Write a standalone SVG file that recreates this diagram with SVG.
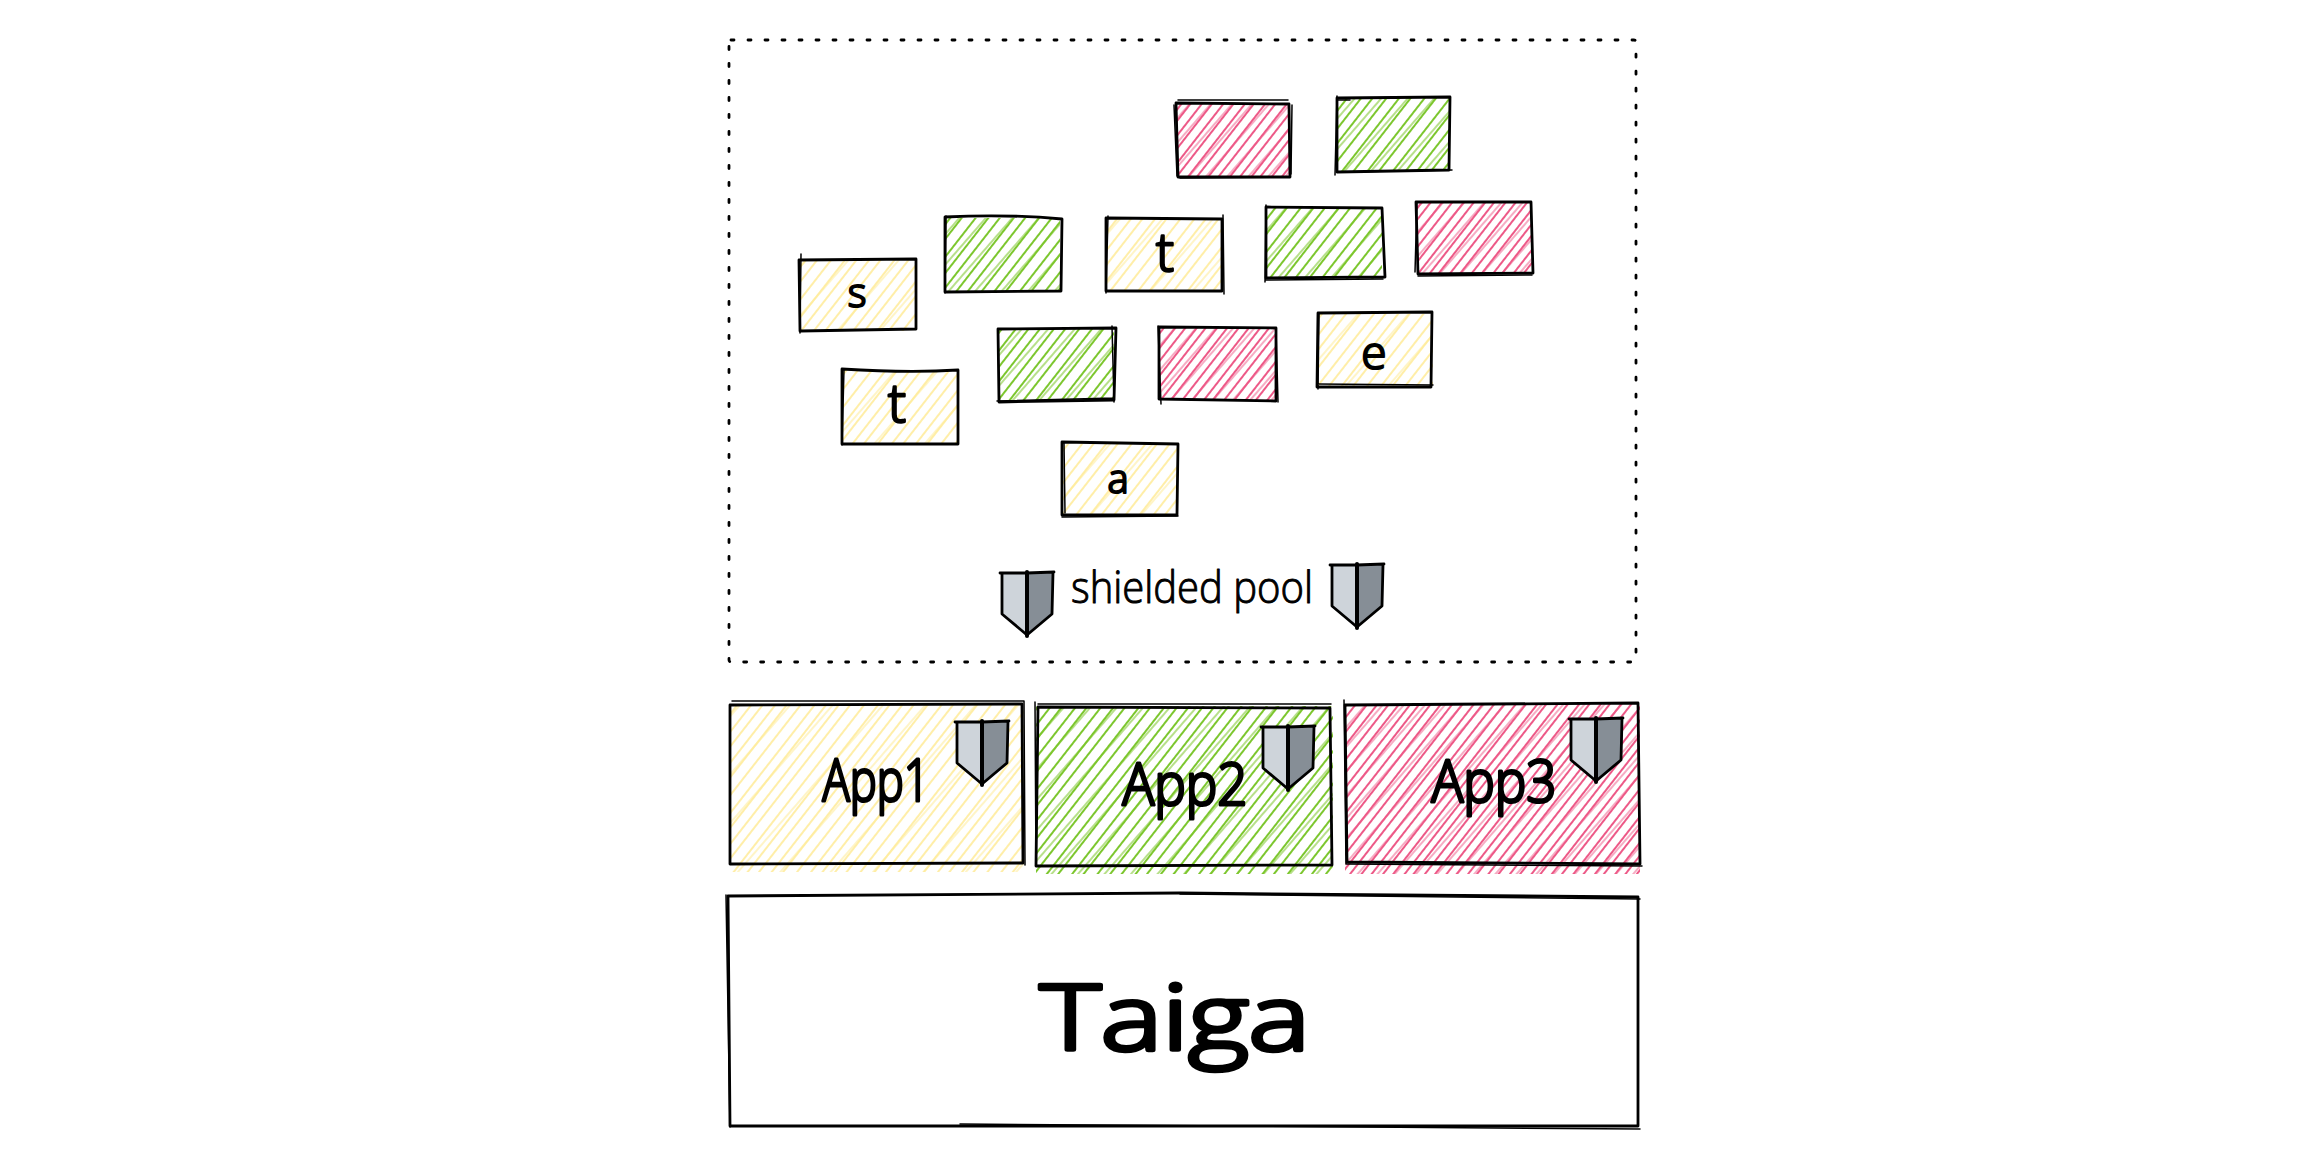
<svg xmlns="http://www.w3.org/2000/svg" width="2314" height="1168" viewBox="0 0 2314 1168">
<style>
.o{fill:none;stroke:#000;stroke-width:2.8;stroke-linecap:round;stroke-linejoin:round}
.o2{fill:none;stroke:#000;stroke-width:1.5;stroke-linecap:round;stroke-linejoin:round}
.t{font-family:"Open Sans","DejaVu Sans",sans-serif;font-weight:300;fill:#000;text-anchor:middle;stroke:#000;stroke-linejoin:round;stroke-linecap:round}
.sl{fill:#ced4da}.sd{fill:#868e96}
.y{fill:url(#hy)}.g{fill:url(#hg)}.p{fill:url(#hp)}
.y2{fill:url(#hy2)}.g2{fill:url(#hg2)}.p2{fill:url(#hp2)}
</style>
<defs>
<pattern id="hy" width="50" height="50" patternUnits="userSpaceOnUse" patternTransform="rotate(38)"><path d="M4 0V50M15 0V50M26 0V50M35 0V50M45 0V50" fill="none" stroke="#ffe98c" stroke-width="1.5"/></pattern>
<pattern id="hy2" width="70" height="70" patternUnits="userSpaceOnUse" patternTransform="rotate(41)"><path d="M9 0V70M41 0V70" fill="none" stroke="#ffec99" stroke-width="1.1"/></pattern>
<pattern id="hg" width="50" height="50" patternUnits="userSpaceOnUse" patternTransform="rotate(38)"><path d="M3 0V50M13 0V50M22 0V50M33 0V50M42 0V50" fill="none" stroke="#66bd0a" stroke-width="1.7"/></pattern>
<pattern id="hg2" width="60" height="60" patternUnits="userSpaceOnUse" patternTransform="rotate(41)"><path d="M7 0V60M27 0V60M47 0V60" fill="none" stroke="#7dc72b" stroke-width="1.1"/></pattern>
<pattern id="hp" width="50" height="50" patternUnits="userSpaceOnUse" patternTransform="rotate(38)"><path d="M2 0V50M11 0V50M19 0V50M28 0V50M36 0V50M45 0V50" fill="none" stroke="#e9306a" stroke-width="1.6"/></pattern>
<pattern id="hp2" width="60" height="60" patternUnits="userSpaceOnUse" patternTransform="rotate(41)"><path d="M6 0V60M22 0V60M38 0V60M53 0V60" fill="none" stroke="#ee5a88" stroke-width="1"/></pattern>
<g id="shield"><path class="sl" d="M3 3H28V65L4 43Z"/><path class="sd" d="M28 3H54V43L28 65Z"/><path class="o" d="M1 3L28 3L55 2M3 3L3 44L28 65L53 44L54 3"/><path d="M28 2L28 66" fill="none" stroke="#000" stroke-width="4" stroke-linecap="round"/></g>
</defs>
<g id="connectors"/>
<g id="pool"><rect x="729" y="40" width="907" height="622" rx="2" fill="none" stroke="#000" stroke-width="2.8" stroke-dasharray="3 14" stroke-linecap="round"/></g>
<g id="b1"><rect class="p" x="1177" y="103" width="113" height="74"/><rect class="p2" x="1177" y="103" width="113" height="74"/><path class="o" d="M1176 103L1289 104L1290 177L1178 177Z"/><path class="o2" d="M1178 100L1288 100M1174 105L1177 176M1292 105L1291 174M1180 178L1288 177"/></g>
<g id="b2"><rect class="g" x="1338" y="98" width="112" height="73"/><rect class="g2" x="1338" y="98" width="112" height="73"/><path class="o" d="M1337 98L1450 97L1449 170L1337 172Z"/><path class="o2" d="M1337 96L1335 175M1337 100L1350 100M1338 172L1452 170"/></g>
<g id="b3"><rect class="g" x="945" y="218" width="115" height="73"/><rect class="g2" x="945" y="218" width="115" height="73"/><path class="o" d="M945 217C985 215 1030 216 1062 219L1061 291L945 292Z"/><path class="o2" d="M946 216L945 293"/></g>
<g id="b4"><rect class="y" x="1106" y="219" width="117" height="72"/><rect class="y2" x="1106" y="219" width="117" height="72"/><path class="o" d="M1106 218L1222 219L1222 291L1106 291Z"/><path class="o2" d="M1223 215L1224 294M1108 216L1106 293"/><text class="t" x="1165" y="271" font-size="54" stroke-width="2.5">t</text></g>
<g id="b5"><rect class="g" x="1266" y="208" width="116" height="71"/><rect class="g2" x="1266" y="208" width="116" height="71"/><path class="o" d="M1266 207L1382 208L1385 277L1266 278Z"/><path class="o2" d="M1266 205L1265 282M1266 280L1383 279"/></g>
<g id="b6"><rect class="p" x="1417" y="203" width="115" height="71"/><rect class="p2" x="1417" y="203" width="115" height="71"/><path class="o" d="M1416 202L1531 202L1533 273L1418 274Z"/><path class="o2" d="M1417 202L1415 272M1418 276L1532 275"/></g>
<g id="b7"><rect class="y" x="800" y="260" width="115" height="71"/><rect class="y2" x="800" y="260" width="115" height="71"/><path class="o" d="M799 260L916 259L916 329L800 331Z"/><path class="o2" d="M801 254L800 333"/><text class="t" x="857" y="307" font-size="40" stroke-width="2.2">s</text></g>
<g id="b8"><rect class="g" x="998" y="329" width="116" height="72"/><rect class="g2" x="998" y="329" width="116" height="72"/><path class="o" d="M998 329L1116 328L1114 400L999 402Z"/><path class="o2" d="M1112 326L1114 402M997 401L1114 398"/></g>
<g id="b9"><rect class="p" x="1159" y="327" width="117" height="73"/><rect class="p2" x="1159" y="327" width="117" height="73"/><path class="o" d="M1159 327L1276 328L1276 401L1159 399Z"/><path class="o2" d="M1158 326L1161 404M1276 329L1278 402"/></g>
<g id="b10"><rect class="y" x="1318" y="314" width="115" height="74"/><rect class="y2" x="1318" y="314" width="115" height="74"/><path class="o" d="M1318 313L1432 312L1431 387L1317 387Z"/><path class="o2" d="M1317 384L1433 385M1319 314L1318 389"/><text class="t" x="1374" y="369" font-size="46" stroke-width="2.2">e</text></g>
<g id="b11"><rect class="y" x="842" y="370" width="116" height="74"/><rect class="y2" x="842" y="370" width="116" height="74"/><path class="o" d="M842 369C875 371 925 372 958 370L958 444L842 444Z"/><path class="o2" d="M844 369L842 445"/><text class="t" x="897" y="422" font-size="54" stroke-width="2.5">t</text></g>
<g id="b12"><rect class="y" x="1062" y="444" width="116" height="71"/><rect class="y2" x="1062" y="444" width="116" height="71"/><path class="o" d="M1062 442L1178 444L1177 515L1062 515Z"/><path class="o2" d="M1064 443L1065 513M1062 517L1178 516"/><text class="t" x="1118" y="493" font-size="40" stroke-width="2.2">a</text></g>
<g id="legend"><use href="#shield" x="999" y="570"/><use href="#shield" x="1329" y="562"/><text class="t" x="1192" y="603" font-size="44" stroke-width="1" textLength="242" lengthAdjust="spacingAndGlyphs">shielded pool</text></g>
<g id="app1"><rect class="y" x="731" y="705" width="293" height="167"/><rect class="y2" x="731" y="705" width="293" height="167"/><path class="o" d="M730 705L1022 704L1023 863L730 864Z"/><path class="o2" d="M732 701L1024 701L1025 865"/><text class="t" x="876" y="801" font-size="58" stroke-width="3.2" textLength="107" lengthAdjust="spacingAndGlyphs">App1</text><use href="#shield" x="954" y="719"/></g>
<g id="app2"><rect class="g" x="1036" y="706" width="297" height="168"/><rect class="g2" x="1036" y="706" width="297" height="168"/><path class="o" d="M1038 707L1330 708L1332 865L1036 866Z"/><path class="o2" d="M1035 702L1036 866M1038 704L1331 704"/><text class="t" x="1185" y="805" font-size="58" stroke-width="3.2" textLength="125" lengthAdjust="spacingAndGlyphs">App2</text><use href="#shield" x="1260" y="724"/></g>
<g id="app3"><rect class="p" x="1345" y="704" width="295" height="170"/><rect class="p2" x="1345" y="704" width="295" height="170"/><path class="o" d="M1345 705L1638 703L1640 864L1347 862Z"/><path class="o2" d="M1344 700L1346 864M1347 864L1642 866"/><text class="t" x="1494" y="802" font-size="58" stroke-width="3.2" textLength="125" lengthAdjust="spacingAndGlyphs">App3</text><use href="#shield" x="1568" y="716"/></g>
<g id="taiga"><path class="o" d="M728 896L1180 893L1638 897L1638 1126L730 1126Z"/><path class="o2" d="M726 895L730 1127M1180 894L1640 899M960 1124L1640 1129"/><text class="t" x="1175" y="1050" font-size="90" stroke-width="4.5" textLength="270" lengthAdjust="spacingAndGlyphs">Taiga</text></g>
</svg>
